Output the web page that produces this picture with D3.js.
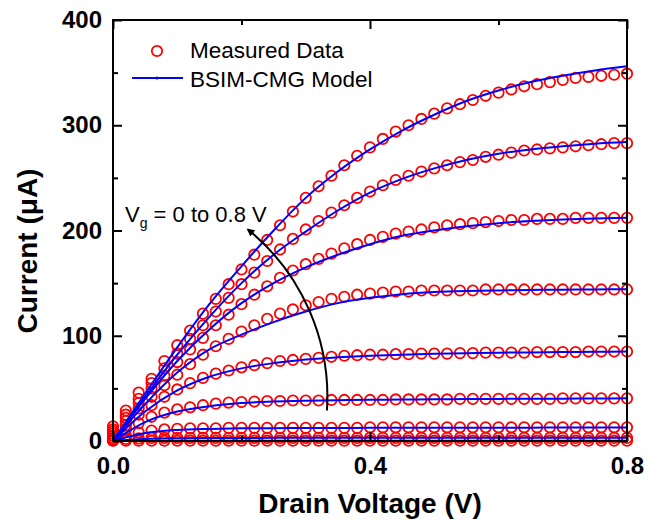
<!DOCTYPE html>
<html>
<head>
<meta charset="utf-8">
<script src="https://cdn.jsdelivr.net/npm/d3@7"></script>
<style>
  html, body { margin: 0; padding: 0; background: #fff; }
  svg { display: block; font-family: Arial, "Liberation Sans", sans-serif; }
</style>
</head>
<body>
<div id="chart"></div>
<script>
// Drain voltage sweep points
const modelV = [0, 0.05, 0.1, 0.15, 0.2, 0.25, 0.3, 0.35, 0.4, 0.45, 0.5, 0.55, 0.6, 0.65, 0.7, 0.75, 0.8];
const measV = [0, 0.02, 0.04, 0.06, 0.08, 0.1, 0.12, 0.14, 0.16, 0.18, 0.2, 0.22, 0.24, 0.26, 0.28, 0.3, 0.32, 0.34, 0.36, 0.38,
  0.4, 0.42, 0.44, 0.46, 0.48, 0.5, 0.52, 0.54, 0.56, 0.58, 0.6, 0.62, 0.64, 0.66, 0.68, 0.7, 0.72, 0.74, 0.76, 0.78, 0.8];

const gateVoltages = [0, 0.1, 0.2, 0.3, 0.4, 0.5, 0.6, 0.7, 0.8];

// BSIM-CMG model current (uA), one row per Vg
const modelVg0 = [0, 0.2, 0.3, 0.3, 0.3, 0.3, 0.3, 0.3, 0.3, 0.3, 0.3, 0.3, 0.3, 0.3, 0.3, 0.3, 0.3];
const modelVg1 = [0, 2, 2.6, 2.8, 2.9, 3, 3, 3, 3, 3, 3, 3, 3, 3, 3, 3, 3];
const modelVg2 = [0, 7.5, 10.5, 11.5, 12, 12.2, 12.3, 12.4, 12.5, 12.5, 12.6, 12.6, 12.7, 12.7, 12.8, 12.8, 12.8];
const modelVg3 = [0, 18, 28, 33, 36, 37.5, 38.3, 38.8, 39.1, 39.4, 39.6, 39.8, 40, 40.1, 40.2, 40.4, 40.5];
const modelVg4 = [0, 28, 48, 61, 69, 74, 77.5, 79.5, 81, 82, 82.8, 83.4, 83.9, 84.2, 84.5, 84.8, 85];
const modelVg5 = [0, 35, 65, 87, 101, 113, 123, 131, 136, 139.5, 141.5, 142.5, 143, 143.5, 143.8, 144, 144.2];
const modelVg6 = [0, 40, 76, 106, 131, 150, 165, 177, 187, 195, 200, 204, 207, 209, 210.5, 211.5, 212];
const modelVg7 = [0, 42, 82, 118, 150, 177, 199, 219, 236, 249, 259, 267, 273, 277, 280, 282.5, 284];
const modelVg8 = [0, 45, 89, 130, 166, 200, 231, 256, 277, 295, 310, 323, 333, 341, 347, 352, 356];

// Measured current (uA), one row per Vg
const measVg0 = [0.3, 0.3, 0.3, 0.3, 0.3, 0.3, 0.3, 0.3, 0.3, 0.3, 0.3, 0.3, 0.3, 0.3, 0.3, 0.3, 0.3, 0.3, 0.3, 0.3,
  0.3, 0.3, 0.3, 0.3, 0.3, 0.3, 0.3, 0.3, 0.3, 0.3, 0.3, 0.3, 0.3, 0.3, 0.3, 0.3, 0.3, 0.3, 0.3, 0.3, 0.3];
const measVg1 = [0.5, 2, 2.5, 3, 3, 3, 3, 3, 3, 3, 3, 3, 3, 3, 3, 3, 3, 3, 3, 3,
  3, 3, 3, 3, 3, 3, 3, 3, 3, 3, 3, 3, 3, 3, 3, 3, 3, 3, 3, 3, 3];
const measVg2 = [1.5, 5, 8, 10, 11, 11.5, 12, 12, 12, 12.5, 12.5, 12.5, 12.5, 12.5, 12.5, 12.5, 12.5, 12.5, 12.5, 12.5,
  13, 13, 13, 13, 13, 13, 13, 13, 13, 13, 13, 13, 13, 13, 13, 13, 13, 13, 13, 13, 13];
const measVg3 = [3, 11, 17, 23, 27, 30, 32, 34, 35.5, 36.5, 37, 37.5, 38, 38, 38.5, 38.5, 38.5, 39, 39, 39,
  39, 39, 39.5, 39.5, 39.5, 39.5, 39.5, 40, 40, 40, 40, 40, 40, 40, 40, 40.5, 40.5, 40.5, 40.5, 40.5, 40.5];
const measVg4 = [5, 15, 25, 34, 42, 49, 55, 60, 64, 67, 70, 72, 74, 76, 77, 78, 79, 80, 81, 81.5,
  82, 82, 82.5, 82.5, 83, 83, 83, 83.5, 83.5, 84, 84, 84, 84, 84.5, 84.5, 84.5, 84.5, 85, 85, 85, 85];
const measVg5 = [7, 19, 31, 42, 53, 63, 73, 82, 90, 97, 104, 110, 116, 121, 125, 129, 132, 135, 137, 139,
  140, 141, 142, 142, 143, 143, 143, 143, 143, 144, 144, 144, 144, 144, 144, 144, 144, 144, 144, 144, 144];
const measVg6 = [9, 22, 36, 50, 62, 75, 87, 98, 110, 120, 130, 139, 147, 155, 162, 168, 173, 178, 183, 187,
  191, 194, 197, 199, 201, 203, 205, 206, 207, 208, 209, 210, 210, 211, 211, 211, 212, 212, 212, 212, 212];
const measVg7 = [11, 25, 40, 55, 69, 83, 97, 110, 123, 136, 149, 160, 171, 182, 192, 201, 209, 217, 224, 231,
  237, 243, 248, 252, 256, 259, 262, 265, 267, 270, 272, 274, 276, 277, 278, 279, 280, 281, 282, 283, 283];
const measVg8 = [14, 29, 46, 59, 76, 91, 105, 121, 135, 149, 163, 177, 191, 205, 218, 231, 242, 252, 262, 271,
  279, 287, 294, 300, 306, 311, 316, 320, 324, 328, 331, 334, 337, 339, 341, 343, 345, 346, 347, 348, 349];

const modelRows = [modelVg0, modelVg1, modelVg2, modelVg3, modelVg4, modelVg5, modelVg6, modelVg7, modelVg8];
const measRows = [measVg0, measVg1, measVg2, measVg3, measVg4, measVg5, measVg6, measVg7, measVg8];

const xMajor = [0, 0.4, 0.8];
const xMinor = [0.2, 0.6];
const yMajor = [0, 100, 200, 300, 400];
const yMinor = [50, 150, 250, 350];

const legendLabels = ['Measured Data', 'BSIM-CMG Model'];

const width = 659, height = 520;
const margin = { top: 20, right: 32, bottom: 79, left: 113 };
const innerW = width - margin.left - margin.right;
const innerH = height - margin.top - margin.bottom;

const svg = d3.select('#chart').append('svg')
  .attr('width', width)
  .attr('height', height);

const g = svg.append('g').attr('transform', `translate(${margin.left},${margin.top})`);

const x = d3.scaleLinear().domain([0, 0.8]).range([0, innerW]);
const y = d3.scaleLinear().domain([0, 400]).range([innerH, 0]);

// measured circles (drawn first, lines go over them)
measRows.forEach(row => {
  g.append('g').selectAll('circle')
    .data(row.map((v, i) => ({ v: measV[i], i: v })))
    .join('circle')
    .attr('cx', d => x(d.v))
    .attr('cy', d => y(d.i))
    .attr('r', 5.2)
    .attr('fill', 'none')
    .attr('stroke', '#ff0000')
    .attr('stroke-width', 1.8);
});

// model lines
const line = d3.line()
  .x(d => x(d.v))
  .y(d => y(d.i))
  .curve(d3.curveMonotoneX);

modelRows.forEach(row => {
  g.append('path')
    .datum(row.map((v, i) => ({ v: modelV[i], i: v })))
    .attr('d', line)
    .attr('fill', 'none')
    .attr('stroke', '#0000ff')
    .attr('stroke-width', 2);
});

// axes: ticks point inward on all four sides
const tickStyle = sel => {
  sel.select('.domain').remove();
  sel.selectAll('line').attr('stroke', '#000').attr('stroke-width', 2);
};

g.append('g').attr('transform', `translate(0,${innerH})`)
  .call(d3.axisBottom(x).tickValues(xMajor).tickSize(-9).tickPadding(16).tickFormat(d3.format('.1f')))
  .call(tickStyle)
  .call(s => s.selectAll('text').attr('font-size', 24).attr('font-weight', 'bold').attr('fill', '#000')
    .attr('font-family', 'Arial, "Liberation Sans", sans-serif'));
g.append('g').attr('transform', `translate(0,${innerH})`)
  .call(d3.axisBottom(x).tickValues(xMinor).tickSize(-5).tickFormat(''))
  .call(tickStyle);

g.append('g')
  .call(d3.axisTop(x).tickValues(xMajor).tickSize(-9).tickFormat(''))
  .call(tickStyle);
g.append('g')
  .call(d3.axisTop(x).tickValues(xMinor).tickSize(-5).tickFormat(''))
  .call(tickStyle);

g.append('g')
  .call(d3.axisLeft(y).tickValues(yMajor).tickSize(-9).tickPadding(11))
  .call(tickStyle)
  .call(s => s.selectAll('text').attr('font-size', 24).attr('font-weight', 'bold').attr('fill', '#000')
    .attr('font-family', 'Arial, "Liberation Sans", sans-serif'));
g.append('g')
  .call(d3.axisLeft(y).tickValues(yMinor).tickSize(-5).tickFormat(''))
  .call(tickStyle);

g.append('g').attr('transform', `translate(${innerW},0)`)
  .call(d3.axisRight(y).tickValues(yMajor).tickSize(-9).tickFormat(''))
  .call(tickStyle);
g.append('g').attr('transform', `translate(${innerW},0)`)
  .call(d3.axisRight(y).tickValues(yMinor).tickSize(-5).tickFormat(''))
  .call(tickStyle);

// frame
g.append('rect')
  .attr('width', innerW)
  .attr('height', innerH)
  .attr('fill', 'none')
  .attr('stroke', '#000')
  .attr('stroke-width', 2);

// axis titles
svg.append('text')
  .attr('x', margin.left + innerW / 2)
  .attr('y', 513)
  .attr('text-anchor', 'middle')
  .attr('font-size', 28)
  .attr('font-weight', 'bold')
  .text('Drain Voltage (V)');

svg.append('text')
  .attr('transform', 'translate(37,251) rotate(-90)')
  .attr('text-anchor', 'middle')
  .attr('font-size', 28)
  .attr('font-weight', 'bold')
  .text('Current (μA)');

// legend
const legend = svg.append('g');
legend.append('circle')
  .attr('cx', 157).attr('cy', 51).attr('r', 5.2)
  .attr('fill', 'none').attr('stroke', '#ff0000').attr('stroke-width', 1.8);
legend.append('line')
  .attr('x1', 132).attr('x2', 183).attr('y1', 78).attr('y2', 78)
  .attr('stroke', '#0000ff').attr('stroke-width', 2);
legend.append('circle')
  .attr('cx', 157).attr('cy', 78).attr('r', 1.5).attr('fill', '#0000ff');
legend.selectAll('text')
  .data(legendLabels)
  .join('text')
  .attr('x', 190)
  .attr('y', (d, i) => 58 + i * 29)
  .attr('font-size', 22.5)
  .text(d => d);

// annotation: Vg sweep arrow
svg.append('defs').append('marker')
  .attr('id', 'arrow')
  .attr('viewBox', '0 0 10 10')
  .attr('refX', 8).attr('refY', 5)
  .attr('markerWidth', 8).attr('markerHeight', 8)
  .attr('markerUnits', 'userSpaceOnUse')
  .attr('orient', 'auto')
  .append('path')
  .attr('d', 'M0,0 L10,5 L0,10 z')
  .attr('fill', '#000');

const sx = margin.left + x(0.333), sy = margin.top + y(29);
const ex = margin.left + x(0.21), ey = margin.top + y(201);
svg.append('path')
  .attr('d', `M${sx},${sy} A216,216 0 0 0 ${ex},${ey}`)
  .attr('fill', 'none')
  .attr('stroke', '#000')
  .attr('stroke-width', 2)
  .attr('marker-end', 'url(#arrow)');

const note = svg.append('text')
  .attr('x', 125)
  .attr('y', 222)
  .attr('font-size', 22);
note.append('tspan').text('V');
note.append('tspan').attr('font-size', 14).attr('dy', 6).text('g');
note.append('tspan').attr('dy', -6).text(' = 0 to 0.8 V');
</script>
</body>
</html>
